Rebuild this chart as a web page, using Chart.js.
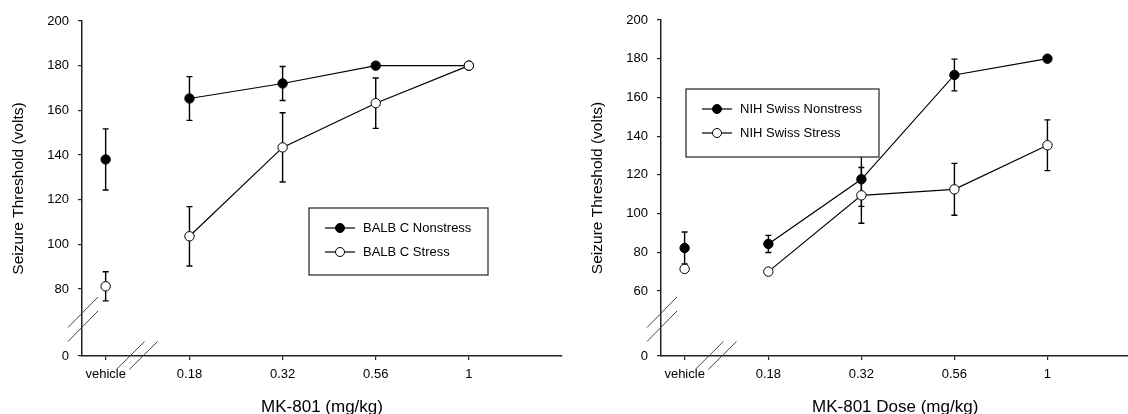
<!DOCTYPE html>
<html><head><meta charset="utf-8">
<script src="https://cdn.jsdelivr.net/npm/chart.js@4/dist/chart.umd.min.js"></script>
<style>
html,body{margin:0;padding:0;background:#fff;}
#wrap{position:relative;width:1128px;height:414px;overflow:hidden;background:#fff;}
canvas{position:absolute;top:0;}
#c1{left:0;} #c2{left:579px;}
</style></head><body>
<div id="wrap"><canvas id="c1" width="579" height="414"></canvas><canvas id="c2" width="556" height="414"></canvas></div>
<script>
// ---- data ----
const doseLabels = ['vehicle', '0.18', '0.32', '0.56', '1'];
const dosePositions = [0.1, 1, 2, 3, 4];

const balbNonstress    = [138.0, 165.3, 172.0, 180.0, 180.0];
const balbNonstressErr = [13.7, 9.8, 7.6, 0, 0];
const balbStress       = [81.2, 103.6, 143.4, 163.2, 180.0];
const balbStressErr    = [6.5, 13.3, 15.5, 11.3, 0];
const balbYTicks = [80, 100, 120, 140, 160, 180, 200];

const nihNonstress    = [82.2, 84.3, 117.7, 171.6, 180.0];
const nihNonstressErr = [8.3, 4.4, 14.0, 8.2, 0];
const nihStress       = [71.4, 70.0, 109.4, 112.5, 135.3];
const nihStressErr    = [0, 0, 14.4, 13.4, 13.1];
const nihYTicks = [60, 80, 100, 120, 140, 160, 180, 200];

const FONT = "'Liberation Sans', Arial, sans-serif";

const errorBarPlugin = {
  id: 'errorBars',
  beforeDatasetsDraw(chart) {
    const ctx = chart.ctx, xs = chart.scales.x, ys = chart.scales.y;
    ctx.save();
    ctx.strokeStyle = '#000';
    ctx.lineWidth = 1.4;
    chart.data.datasets.forEach(ds => {
      (ds.errors || []).forEach((e, i) => {
        if (!e) return;
        const p = ds.data[i];
        const x = xs.getPixelForValue(p.x);
        const y1 = ys.getPixelForValue(p.y + e), y2 = ys.getPixelForValue(p.y - e);
        ctx.beginPath();
        ctx.moveTo(x, y1); ctx.lineTo(x, y2);
        ctx.moveTo(x - 3, y1); ctx.lineTo(x + 3, y1);
        ctx.moveTo(x - 3, y2); ctx.lineTo(x + 3, y2);
        ctx.stroke();
      });
    });
    ctx.restore();
  }
};

const breakPlugin = {
  id: 'axisBreaks',
  afterDraw(chart) {
    const ctx = chart.ctx, a = chart.chartArea, xs = chart.scales.x;
    ctx.save();
    ctx.strokeStyle = '#444';
    ctx.lineWidth = 1;
    [43, 29].forEach(off => {
      const cx = a.left, cy = a.bottom - off;
      ctx.beginPath(); ctx.moveTo(cx - 14, cy + 14.5); ctx.lineTo(cx + 16, cy - 16); ctx.stroke();
    });
    [0.36, 0.5].forEach(v => {
      const cx = xs.getPixelForValue(v), cy = a.bottom;
      ctx.beginPath(); ctx.moveTo(cx - 13.6, cy + 13.5); ctx.lineTo(cx + 14.6, cy - 14.5); ctx.stroke();
    });
    ctx.restore();
  }
};

const legendPlugin = {
  id: 'boxLegend',
  afterDraw(chart) {
    const o = chart.options.plugins.boxLegend;
    if (!o) return;
    const ctx = chart.ctx, a = chart.chartArea;
    const bx = a.left + o.dx, by = o.y;
    ctx.save();
    ctx.fillStyle = '#fff';
    ctx.fillRect(bx, by, o.w, o.h);
    ctx.strokeStyle = '#222';
    ctx.lineWidth = 1.2;
    ctx.strokeRect(bx, by, o.w, o.h);
    ctx.font = '13px ' + FONT;
    ctx.textBaseline = 'middle';
    chart.data.datasets.slice().sort((p, q) => p.legendRow - q.legendRow).forEach((ds, k) => {
      const ry = by + 20 + k * 24;
      const lx = bx + 16;
      ctx.strokeStyle = '#000'; ctx.lineWidth = 1.2;
      ctx.beginPath(); ctx.moveTo(lx, ry); ctx.lineTo(lx + 30, ry); ctx.stroke();
      ctx.beginPath(); ctx.arc(lx + 15, ry, 4.5, 0, Math.PI * 2);
      ctx.fillStyle = ds.pointBackgroundColor; ctx.fill();
      ctx.lineWidth = 1; ctx.stroke();
      ctx.fillStyle = '#000';
      ctx.fillText(ds.label, lx + 38, ry + 0.5);
    });
    ctx.restore();
  }
};

function makeDataset(label, vals, errs, filled, row) {
  return {
    label,
    data: dosePositions.map((x, i) => ({ x, y: vals[i] })),
    errors: errs,
    legendRow: row,
    borderColor: '#000',
    borderWidth: 1.2,
    pointRadius: 4.7,
    pointHoverRadius: 4.7,
    pointBorderWidth: 1,
    pointBorderColor: '#000',
    pointBackgroundColor: filled ? '#000' : '#fff',
    fill: false,
    tension: 0,
    segment: { borderColor: c => c.p0DataIndex === 0 ? 'rgba(0,0,0,0)' : '#000' }
  };
}

function makeChart(id, cfg) {
  const base = cfg.yBase;
  return new Chart(document.getElementById(id), {
    type: 'line',
    data: {
      datasets: [
        makeDataset(cfg.stressLabel, cfg.stress, cfg.stressErr, false, 1),
        makeDataset(cfg.nonLabel, cfg.non, cfg.nonErr, true, 0)
      ]
    },
    plugins: [errorBarPlugin, breakPlugin, legendPlugin],
    options: {
      responsive: false,
      animation: false,
      events: [],
      layout: { padding: { top: cfg.top, right: cfg.padRight, left: 0, bottom: 0 } },
      plugins: { legend: { display: false }, tooltip: { enabled: false }, boxLegend: cfg.legend },
      scales: {
        x: {
          type: 'linear',
          min: -0.154,
          max: cfg.xMax,
          afterBuildTicks: s => { s.ticks = dosePositions.map(v => ({ value: v })); },
          afterFit: s => { s.height = 58; s.paddingLeft = 0; s.paddingRight = 0; },
          ticks: {
            callback: (v, i) => doseLabels[i],
            font: { family: FONT, size: 13 },
            color: '#000',
            padding: 7,
            maxRotation: 0,
            autoSkip: false
          },
          grid: { drawOnChartArea: false, drawTicks: true, tickLength: 4, color: '#222', lineWidth: 1.2 },
          border: { display: true, color: '#222', width: 1.5 },
          title: {
            display: true, text: cfg.xTitle, color: '#000',
            font: { family: FONT, size: 17, lineHeight: 1 },
            padding: { top: 0, bottom: -2 }
          }
        },
        y: {
          type: 'linear',
          min: base,
          max: 200,
          afterBuildTicks: s => { s.ticks = [base].concat(cfg.yTicks).map(v => ({ value: v })); },
          afterFit: s => { s.width = 82; s.paddingTop = 0; s.paddingBottom = 0; },
          ticks: {
            callback: v => v === base ? '0' : String(v),
            font: { family: FONT, size: 13 },
            color: '#000',
            padding: 9
          },
          grid: { drawOnChartArea: false, drawTicks: true, tickLength: 4, color: '#222', lineWidth: 1.2 },
          border: { display: true, color: '#222', width: 1.5 },
          title: {
            display: true, text: 'Seizure Threshold (volts)', color: '#000',
            font: { family: FONT, size: 15.5, lineHeight: 1.2 },
            padding: { top: 9, bottom: 0 }
          }
        }
      }
    }
  });
}

makeChart('c1', {
  non: balbNonstress, nonErr: balbNonstressErr, nonLabel: 'BALB C Nonstress',
  stress: balbStress, stressErr: balbStressErr, stressLabel: 'BALB C Stress',
  yBase: 50, yTicks: balbYTicks, top: 21, padRight: 17, xMax: 5,
  xTitle: 'MK-801 (mg/kg)',
  legend: { dx: 227, y: 208, w: 179, h: 67 }
});
makeChart('c2', {
  non: nihNonstress, nonErr: nihNonstressErr, nonLabel: 'NIH Swiss Nonstress',
  stress: nihStress, stressErr: nihStressErr, stressLabel: 'NIH Swiss Stress',
  yBase: 26.4, yTicks: nihYTicks, top: 20, padRight: 0, xMax: 4.88,
  xTitle: 'MK-801 Dose (mg/kg)',
  legend: { dx: 25, y: 89, w: 193, h: 68 }
});
</script>
</body></html>
